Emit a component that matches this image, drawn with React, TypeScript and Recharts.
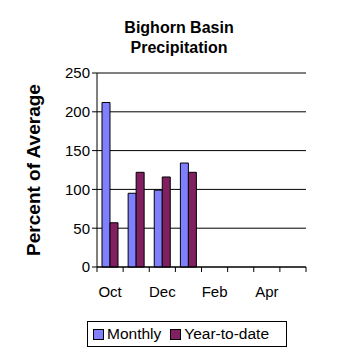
import React from "react";
import {
  BarChart,
  Bar,
  XAxis,
  YAxis,
  CartesianGrid,
  ReferenceLine,
} from "recharts";

const months = ["Oct", "Nov", "Dec", "Jan", "Feb", "Mar", "Apr", "May"];
const monthly = [212, 95, 99, 134, null, null, null, null];
const yearToDate = [57, 122, 116, 122, null, null, null, null];
const yTicks = [0, 50, 100, 150, 200, 250];

const data = months.map((m, i) => ({
  month: m,
  Monthly: monthly[i],
  "Year-to-date": yearToDate[i],
}));

const FONT = "'Liberation Sans', Arial, sans-serif";
const BAND = 209 / months.length;
const AXIS_Y = 267;

function MonthTick(props: any) {
  const { x, payload, index } = props;
  return (
    <g>
      <line x1={x - BAND / 2} x2={x - BAND / 2} y1={AXIS_Y} y2={AXIS_Y + 5} stroke="#000" />
      {index === months.length - 1 && (
        <line x1={x + BAND / 2} x2={x + BAND / 2} y1={AXIS_Y} y2={AXIS_Y + 5} stroke="#000" />
      )}
      {index % 2 === 0 && (
        <text x={x} y={AXIS_Y + 30} textAnchor="middle" fontSize={15} fontFamily={FONT} fill="#000">
          {payload.value}
        </text>
      )}
    </g>
  );
}

function LegendBox() {
  const item = (color: string, label: string) => (
    <span style={{ display: "inline-flex", alignItems: "center", marginRight: 9 }}>
      <span
        style={{
          width: 11,
          height: 11,
          boxSizing: "border-box",
          background: color,
          border: "1px solid #000",
          marginRight: 3,
          display: "inline-block",
        }}
      />
      {label}
    </span>
  );
  return (
    <div
      style={{
        position: "absolute",
        left: 87,
        top: 321,
        width: 200,
        height: 26,
        boxSizing: "border-box",
        border: "1px solid #000",
        fontFamily: FONT,
        fontSize: 15.5,
        display: "flex",
        alignItems: "center",
        paddingLeft: 5,
        background: "#fff",
      }}
    >
      {item("#8080ff", "Monthly")}
      {item("#802060", "Year-to-date")}
    </div>
  );
}

export default function App() {
  return (
    <div style={{ position: "absolute", left: 0, top: 0, width: 358, height: 358, background: "#fff" }}>
      <div
        style={{
          position: "absolute",
          left: 0,
          top: 18,
          width: 358,
          textAlign: "center",
          fontFamily: FONT,
          fontWeight: "bold",
          fontSize: 16,
          lineHeight: "20px",
        }}
      >
        Bighorn Basin
        <br />
        Precipitation
      </div>
      <div
        style={{
          position: "absolute",
          left: 34,
          top: 170,
          transform: "translate(-50%, -50%) rotate(-90deg)",
          whiteSpace: "nowrap",
          fontFamily: FONT,
          fontWeight: "bold",
          fontSize: 19,
        }}
      >
        Percent of Average
      </div>
      <BarChart
        width={358}
        height={358}
        data={data}
        margin={{ top: 73, right: 52, bottom: 61, left: 0 }}
        barGap={0}
        barSize={8}
      >
        <CartesianGrid vertical={false} stroke="#000" />
        <ReferenceLine y={250} stroke="#808080" />
        <XAxis
          dataKey="month"
          interval={0}
          tickLine={false}
          axisLine={{ stroke: "#000" }}
          tick={<MonthTick />}
          height={30}
        />
        <YAxis
          domain={[0, 250]}
          ticks={yTicks}
          interval={0}
          width={97}
          tickSize={5}
          tickLine={{ stroke: "#000" }}
          axisLine={{ stroke: "#000" }}
          tick={{ fill: "#000", fontSize: 15, fontFamily: FONT }}
        />
        <YAxis
          yAxisId="right"
          orientation="right"
          domain={[0, 250]}
          width={0}
          tick={false}
          tickLine={false}
          axisLine={{ stroke: "#808080" }}
        />
        <Bar dataKey="Monthly" fill="#8080ff" stroke="#000" isAnimationActive={false} />
        <Bar dataKey="Year-to-date" fill="#802060" stroke="#000" isAnimationActive={false} />
      </BarChart>
      <LegendBox />
    </div>
  );
}
